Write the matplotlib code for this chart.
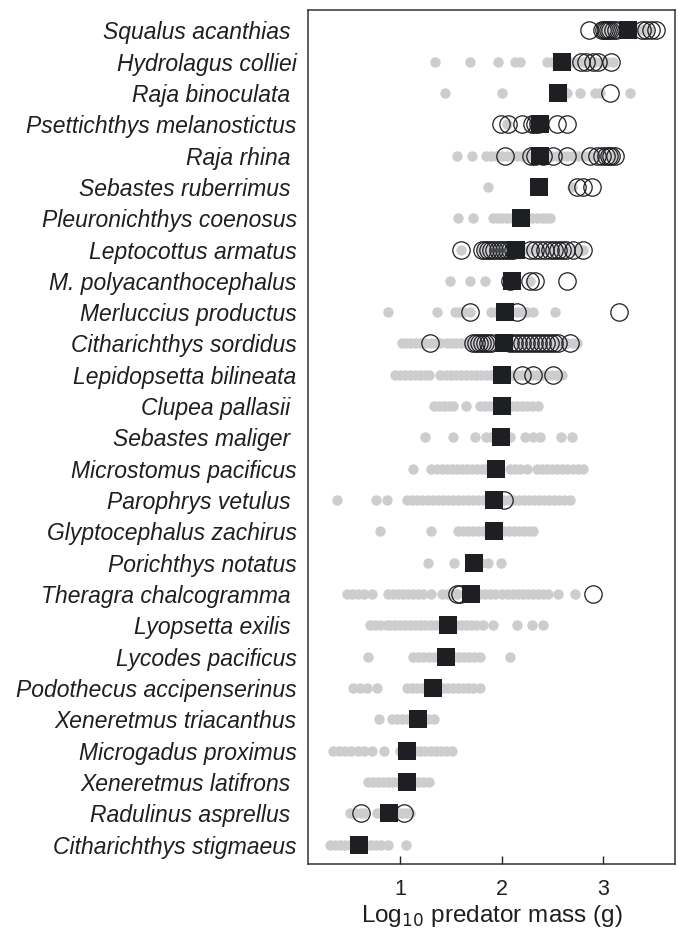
import matplotlib.pyplot as plt

plt.rcParams['font.family'] = ['Liberation Sans', 'DejaVu Sans']

# species, top to bottom
species = [
    'Squalus acanthias ', 'Hydrolagus colliei', 'Raja binoculata ',
    'Psettichthys melanostictus', 'Raja rhina ', 'Sebastes ruberrimus ',
    'Pleuronichthys coenosus', 'Leptocottus armatus', 'M. polyacanthocephalus',
    'Merluccius productus', 'Citharichthys sordidus', 'Lepidopsetta bilineata',
    'Clupea pallasii ', 'Sebastes maliger ', 'Microstomus pacificus',
    'Parophrys vetulus ', 'Glyptocephalus zachirus', 'Porichthys notatus',
    'Theragra chalcogramma ', 'Lyopsetta exilis ', 'Lycodes pacificus',
    'Podothecus accipenserinus', 'Xeneretmus triacanthus', 'Microgadus proximus',
    'Xeneretmus latifrons ', 'Radulinus asprellus ', 'Citharichthys stigmaeus',
]

# mean log10 predator mass (black squares)
means = [3.25, 2.60, 2.56, 2.38, 2.38, 2.37, 2.19, 2.14, 2.10, 2.03, 2.02, 2.00,
         2.00, 1.99, 1.95, 1.93, 1.93, 1.73, 1.70, 1.47, 1.45, 1.32, 1.18, 1.07,
         1.07, 0.89, 0.59]

# individual predators (grey dots)
grey_pts = [
    [3.00, 3.04, 3.08, 3.12, 3.16, 3.20, 3.25, 3.30, 3.34, 3.38, 3.42, 3.45],
    [1.34, 1.69, 1.96, 2.13, 2.18, 2.45, 2.50, 2.55, 2.62, 2.68, 2.74, 2.80, 2.86,
     2.92, 2.98, 3.04, 3.10],
    [1.44, 2.00, 2.65, 2.77, 2.92, 2.97, 3.27],
    [2.05],
    [1.56, 1.71, 1.85, 1.90, 1.95, 2.00, 2.05, 2.10, 2.15, 2.20, 2.25, 2.30, 2.35,
     2.40, 2.45, 2.50, 2.55, 2.60, 2.65, 2.70, 2.75, 2.80, 2.85, 2.90, 2.95, 3.00,
     3.05, 3.10],
    [1.87, 2.69],
    [1.57, 1.72, 1.92, 1.96, 2.00, 2.05, 2.10, 2.15, 2.20, 2.25, 2.30, 2.35, 2.40,
     2.44, 2.48],
    [1.60, 1.81, 1.85, 1.90, 1.95, 2.00, 2.05, 2.10, 2.15, 2.20, 2.25, 2.30, 2.35,
     2.40, 2.45, 2.50, 2.55, 2.60, 2.65, 2.70, 2.75, 2.80],
    [1.49, 1.69, 1.84, 2.28],
    [0.88, 1.36, 1.54, 1.58, 1.62, 1.69, 1.90, 1.95, 2.00, 2.06, 2.15, 2.20, 2.25,
     2.31, 2.53],
    [1.02, 1.06, 1.10, 1.15, 1.20, 1.25, 1.30, 1.35, 1.39, 1.46, 1.50, 1.55, 1.60,
     1.65, 1.70, 1.75, 1.80, 1.85, 1.90, 1.95, 2.00, 2.05, 2.10, 2.15, 2.20, 2.25,
     2.30, 2.35, 2.40, 2.45, 2.50, 2.55, 2.60, 2.65, 2.70, 2.74],
    [0.95, 1.00, 1.05, 1.10, 1.15, 1.20, 1.25, 1.28, 1.39, 1.45, 1.50, 1.55, 1.60,
     1.65, 1.70, 1.75, 1.80, 1.85, 1.90, 1.95, 2.00, 2.05, 2.10, 2.15, 2.20, 2.25,
     2.30, 2.35, 2.40, 2.45, 2.50, 2.55, 2.60],
    [1.33, 1.38, 1.43, 1.48, 1.52, 1.65, 1.79, 1.84, 1.89, 1.94, 2.00, 2.05, 2.10,
     2.15, 2.20, 2.25, 2.30, 2.36],
    [1.25, 1.52, 1.74, 1.85, 1.90, 2.08, 2.23, 2.31, 2.38, 2.59, 2.69],
    [1.13, 1.30, 1.36, 1.41, 1.46, 1.51, 1.56, 1.61, 1.66, 1.71, 1.76, 1.81, 1.85,
     1.90, 2.08, 2.13, 2.18, 2.25, 2.35, 2.40, 2.45, 2.50, 2.55, 2.60, 2.65, 2.70,
     2.75, 2.80],
    [0.38, 0.76, 0.87, 1.07, 1.12, 1.17, 1.22, 1.27, 1.32, 1.37, 1.42, 1.47, 1.52,
     1.57, 1.62, 1.67, 1.72, 1.77, 1.82, 1.87, 1.92, 1.97, 2.02, 2.07, 2.12, 2.17,
     2.22, 2.27, 2.32, 2.37, 2.42, 2.47, 2.52, 2.57, 2.62, 2.67],
    [0.80, 1.30, 1.57, 1.62, 1.67, 1.72, 1.77, 1.82, 1.87, 1.92, 1.97, 2.02, 2.07,
     2.12, 2.17, 2.22, 2.27, 2.31],
    [1.27, 1.53, 1.80, 1.87, 1.99],
    [0.48, 0.53, 0.58, 0.64, 0.72, 0.88, 0.93, 0.98, 1.03, 1.08, 1.13, 1.18, 1.23,
     1.30, 1.41, 1.46, 1.51, 1.56, 1.79, 1.84, 1.89, 1.94, 2.00, 2.06, 2.11, 2.16,
     2.21, 2.26, 2.31, 2.36, 2.41, 2.46, 2.56, 2.72],
    [0.70, 0.75, 0.80, 0.87, 0.90, 0.95, 1.00, 1.05, 1.10, 1.15, 1.20, 1.25, 1.30,
     1.35, 1.40, 1.45, 1.50, 1.55, 1.60, 1.65, 1.70, 1.75, 1.82, 1.92, 2.15, 2.30,
     2.41],
    [0.68, 1.13, 1.18, 1.23, 1.28, 1.33, 1.38, 1.43, 1.48, 1.53, 1.58, 1.63, 1.68,
     1.73, 1.79, 2.08],
    [0.54, 0.60, 0.67, 0.77, 1.07, 1.12, 1.17, 1.22, 1.27, 1.32, 1.37, 1.42, 1.47,
     1.52, 1.57, 1.62, 1.67, 1.72, 1.79],
    [0.79, 0.92, 0.97, 1.02, 1.07, 1.12, 1.17, 1.22, 1.27, 1.33],
    [0.34, 0.40, 0.46, 0.52, 0.58, 0.64, 0.72, 0.84, 1.00, 1.05, 1.10, 1.15, 1.20,
     1.25, 1.30, 1.35, 1.40, 1.45, 1.51],
    [0.68, 0.73, 0.78, 0.83, 0.88, 0.93, 0.98, 1.03, 1.08, 1.13, 1.18, 1.23, 1.28],
    [0.51, 0.56, 0.61, 0.64, 0.77, 0.82, 0.87, 0.92, 0.97, 1.02, 1.06, 1.10],
    [0.31, 0.36, 0.41, 0.46, 0.51, 0.56, 0.61, 0.66, 0.71, 0.76, 0.81, 0.88, 1.06],
]

# open circles
open_pts = [
    [2.86, 2.99, 3.01, 3.03, 3.05, 3.07, 3.10, 3.13, 3.38, 3.42, 3.47, 3.52],
    [2.78, 2.83, 2.90, 2.95, 3.08],
    [3.07],
    [1.99, 2.06, 2.20, 2.30, 2.33, 2.36, 2.55, 2.65],
    [2.03, 2.29, 2.33, 2.41, 2.51, 2.65, 2.87, 2.94, 2.99, 3.03, 3.06, 3.08, 3.12],
    [2.74, 2.80, 2.89],
    [],
    [1.60, 1.81, 1.84, 1.87, 1.90, 1.93, 1.96, 1.99, 2.02, 2.05, 2.08, 2.11, 2.28,
     2.33, 2.38, 2.43, 2.48, 2.52, 2.56, 2.60, 2.64, 2.70, 2.80],
    [2.08, 2.28, 2.33, 2.65],
    [1.69, 2.15, 3.16],
    [1.29, 1.72, 1.75, 1.78, 1.81, 1.84, 1.87, 1.90, 2.08, 2.12, 2.16, 2.20, 2.24,
     2.28, 2.32, 2.36, 2.40, 2.44, 2.48, 2.52, 2.56, 2.67],
    [2.20, 2.31, 2.51],
    [], [], [],
    [2.02],
    [], [],
    [1.56, 1.59, 2.90],
    [], [], [], [], [], [],
    [0.61, 1.04],
    [],
]

fig = plt.figure(figsize=(6.78, 9.32), dpi=100)
ax = fig.add_axes([0.454, 0.073, 0.5416, 0.916])

for i in range(len(species)):
    ax.plot(grey_pts[i], [i] * len(grey_pts[i]), 'o', color='#cdcdcf',
            markersize=7.5, markeredgewidth=0, zorder=1)
    if open_pts[i]:
        ax.plot(open_pts[i], [i] * len(open_pts[i]), 'o', markerfacecolor='none',
                markeredgecolor='#1e1f22', markersize=12.5, markeredgewidth=0.9,
                zorder=2)
ax.plot(means, range(len(species)), 's', color='#1e1f22', markersize=13,
        markeredgewidth=0, zorder=3)

ax.set_xlim(0.09, 3.71)
ax.set_ylim(len(species) - 0.38, -0.64)
ax.set_xticks([1, 2, 3])
ax.set_xticklabels(['1', '2', '3'], fontsize=15.5)
ax.set_yticks(range(len(species)))
ax.set_yticklabels(species, fontsize=16.5, style='italic', color='#1e1f22')
ax.tick_params(axis='y', length=0, pad=8)
ax.tick_params(axis='x', direction='in', length=6, width=1, pad=11,
               colors='#1e1f22')
for s in ax.spines.values():
    s.set_color('#333333')
    s.set_linewidth(1.1)

ax.set_xlabel('Log$_{10}$ predator mass (g)', fontsize=17.5, labelpad=2,
              color='#1e1f22')

fig.savefig('out.png', dpi=100)
